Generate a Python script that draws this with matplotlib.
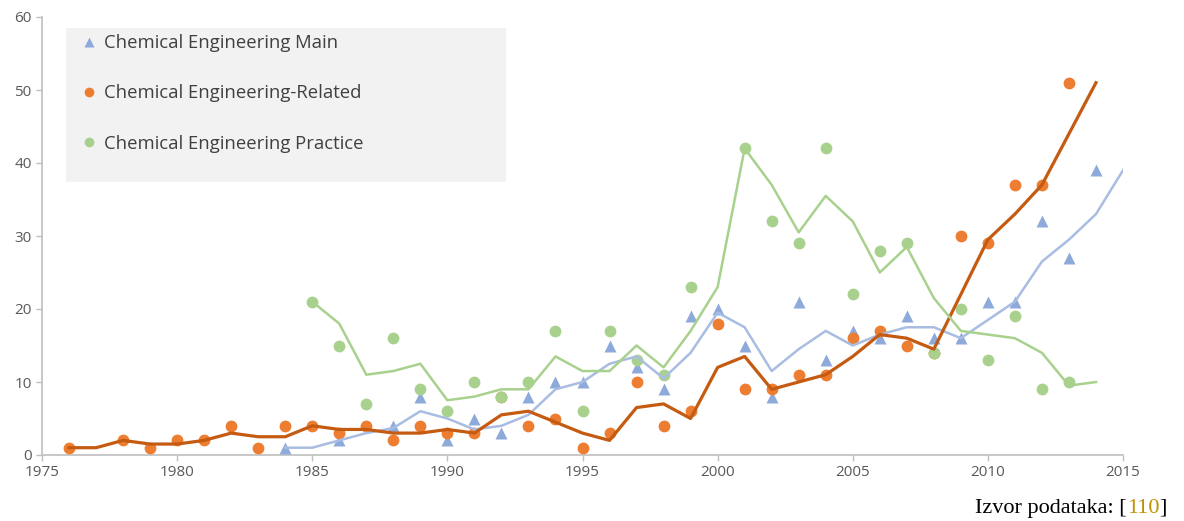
import numpy as np
import matplotlib
matplotlib.use("Agg")
import matplotlib.pyplot as plt
from matplotlib.lines import Line2D
from matplotlib.patches import Rectangle

# podaci ocitani sa slike
main_years = [1984, 1986, 1988, 1989, 1990, 1991, 1992, 1993, 1994, 1995, 1996, 1997,
              1998, 1999, 2000, 2001, 2002, 2003, 2004, 2005, 2006, 2007, 2008, 2009,
              2010, 2011, 2012, 2013, 2014]
main_vals = [1, 2, 4, 8, 2, 5, 3, 8, 10, 10, 15, 12, 9, 19, 20, 15, 8, 21, 13, 17, 16,
             19, 16, 16, 21, 21, 32, 27, 39]

rel_years = [1976] + list(range(1978, 2014))
rel_vals = [1, 2, 1, 2, 2, 4, 1, 4, 4, 3, 4, 2, 4, 3, 3, 8, 4, 5, 1, 3, 10, 4, 6, 18,
            9, 9, 11, 11, 16, 17, 15, 14, 30, 29, 37, 37, 51]

prac_years = list(range(1985, 2000)) + list(range(2001, 2014))
prac_vals = [21, 15, 7, 16, 9, 6, 10, 8, 10, 17, 6, 17, 13, 11, 23,
             42, 32, 29, 42, 22, 28, 29, 14, 20, 13, 19, 9, 10]

# trend linije (pomicni prosjek) ocitane sa slike
main_trend_years = list(range(1984, 2016))
main_trend = [1, 1, 2, 3, 3.7, 6, 5, 3.5, 4, 5.5, 9, 10, 12.5, 13.5, 10.5, 14, 19.5,
              17.5, 11.5, 14.5, 17, 15, 16.5, 17.5, 17.5, 16, 18.5, 21, 26.5, 29.5, 33, 39]
rel_trend_years = list(range(1976, 2015))
rel_trend = [1, 1, 2, 1.5, 1.5, 2, 3, 2.5, 2.5, 4, 3.5, 3.5, 3, 3, 3.5, 3, 5.5, 6, 4.5,
             3, 2, 6.5, 7, 5, 12, 13.5, 9, 10, 11, 13.5, 16.5, 16, 14.5, 22, 29.5, 33,
             37, 44, 51]
prac_trend_years = list(range(1985, 2015))
prac_trend = [21, 18, 11, 11.5, 12.5, 7.5, 8, 9, 9, 13.5, 11.5, 11.5, 15, 12, 17, 23,
              42, 37, 30.5, 35.5, 32, 25, 28.5, 21.5, 17, 16.5, 16, 14, 9.5, 10]

labels = ['Chemical Engineering Main', 'Chemical Engineering-Related',
          'Chemical Engineering Practice']

c_blue = '#8eaadb'
c_blue_line = '#a9bde3'
c_orange = '#ed7d31'
c_orange_line = '#c55a11'
c_green = '#a9d18e'

plt.rcParams['font.family'] = ['Open Sans', 'DejaVu Sans']

fig = plt.figure(figsize=(11.84, 5.21), dpi=100)
ax = fig.add_axes([42/1184, 66/521, 1081/1184, 438/521])

ax.plot(main_years, main_vals, '^', color=c_blue, ms=8.5, mec='none', zorder=3)
ax.plot(rel_years, rel_vals, 'o', color=c_orange, ms=8.5, mec='none', zorder=3)
ax.plot(prac_years, prac_vals, 'o', color=c_green, ms=8.5, mec='none', zorder=3)

ax.plot(main_trend_years, main_trend, color=c_blue_line, lw=1.8, zorder=4)
ax.plot(rel_trend_years, rel_trend, color=c_orange_line, lw=2.3, zorder=4)
ax.plot(prac_trend_years, prac_trend, color=c_green, lw=1.8, zorder=4)

ax.set_xlim(1975, 2015)
ax.set_ylim(0, 60)
ax.set_xticks(range(1975, 2016, 5))
ax.set_yticks(range(0, 61, 10))
for s in ['top', 'right']:
    ax.spines[s].set_visible(False)
for s in ['left', 'bottom']:
    ax.spines[s].set_color('#bfbfbf')
    ax.spines[s].set_linewidth(1.2)
ax.tick_params(colors='#bfbfbf', labelcolor='#595959', labelsize=11, length=4, width=1)

# siva pozadina legende
ax.add_patch(Rectangle((0.0222, 0.623), 0.407, 0.352, transform=ax.transAxes,
                       facecolor='#f2f2f2', edgecolor='none', zorder=1))

handles = [Line2D([], [], ls='none', marker='^', color=c_blue, ms=7, mec='none'),
           Line2D([], [], ls='none', marker='o', color=c_orange, ms=7, mec='none'),
           Line2D([], [], ls='none', marker='o', color=c_green, ms=7, mec='none')]
leg = ax.legend(handles, labels, loc='upper left', bbox_to_anchor=(0.0222, 1.0),
                borderaxespad=0, fontsize=13.3, labelspacing=1.75, borderpad=0.92,
                handletextpad=0.55, handlelength=0.6, frameon=False)
for t in leg.get_texts():
    t.set_color('#404040')

# izvor
t1 = fig.text(975/1184, 3/521, 'Izvor podataka: [', family='Liberation Serif',
              fontsize=16, color='black', va='bottom')
t2 = plt.annotate('110', xycoords=t1, xy=(1, 0), va='bottom', family='Liberation Serif',
                  fontsize=16, color='#bf9000')
plt.annotate(']', xycoords=t2, xy=(1, 0), va='bottom', family='Liberation Serif',
             fontsize=16, color='black')

fig.savefig('out.png', dpi=100)
